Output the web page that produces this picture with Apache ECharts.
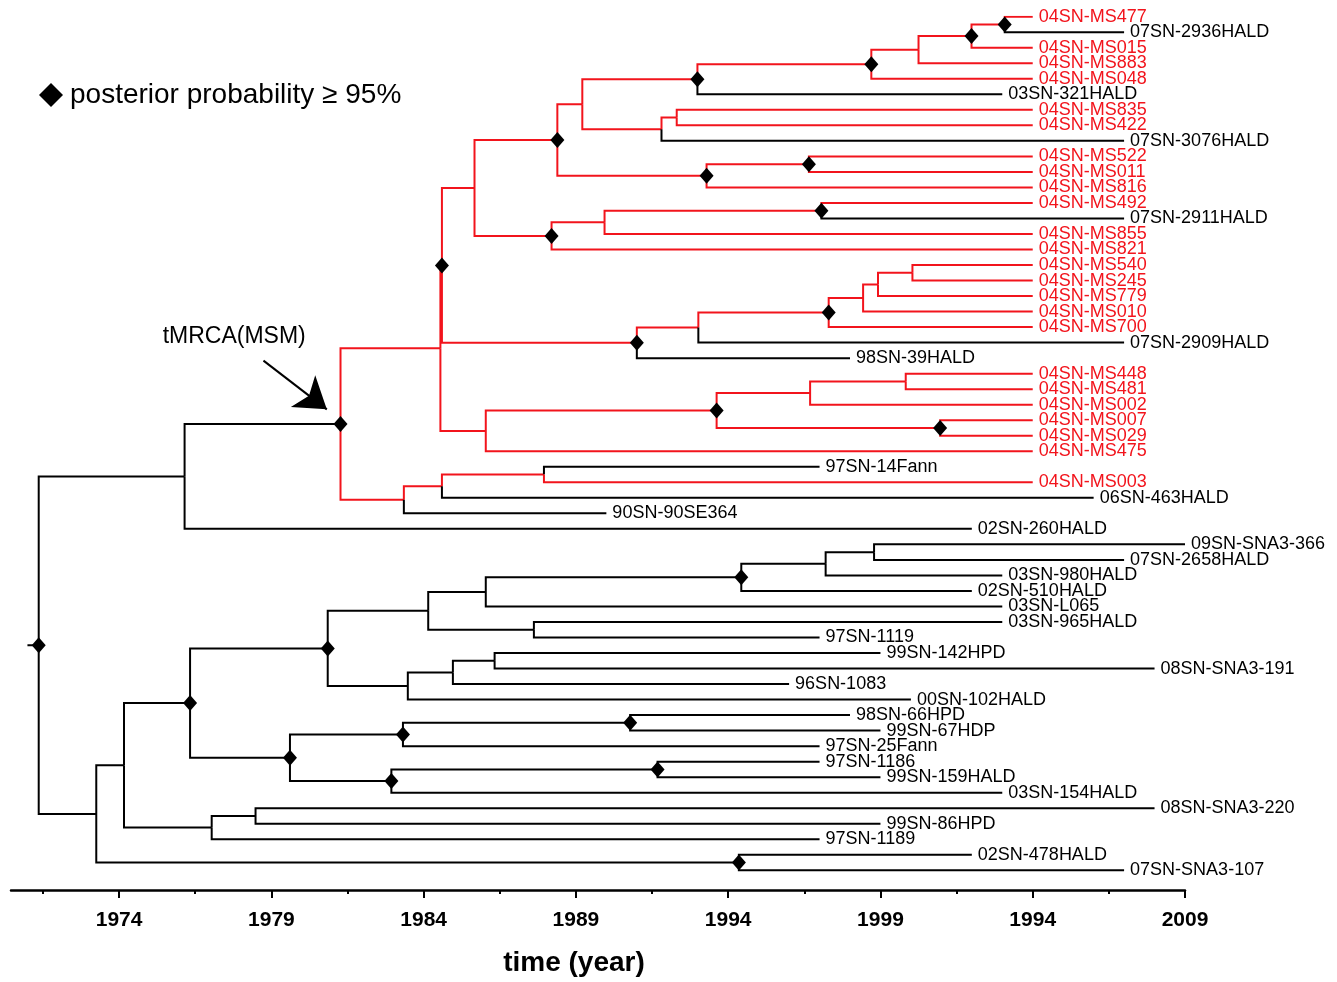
<!DOCTYPE html>
<html><head><meta charset="utf-8">
<script src="https://cdn.jsdelivr.net/npm/echarts@6/dist/echarts.min.js"></script>
<style>html,body{margin:0;padding:0;background:#fff}#c{width:1337px;height:982px}</style>
</head><body><div id="c"></div>
<script>
// ---------- leaves (top to bottom) ----------
const leafNames = [
 '04SN-MS477','07SN-2936HALD','04SN-MS015','04SN-MS883','04SN-MS048','03SN-321HALD',
 '04SN-MS835','04SN-MS422','07SN-3076HALD','04SN-MS522','04SN-MS011','04SN-MS816',
 '04SN-MS492','07SN-2911HALD','04SN-MS855','04SN-MS821','04SN-MS540','04SN-MS245',
 '04SN-MS779','04SN-MS010','04SN-MS700','07SN-2909HALD','98SN-39HALD','04SN-MS448',
 '04SN-MS481','04SN-MS002','04SN-MS007','04SN-MS029','04SN-MS475','97SN-14Fann',
 '04SN-MS003','06SN-463HALD','90SN-90SE364','02SN-260HALD','09SN-SNA3-366','07SN-2658HALD',
 '03SN-980HALD','02SN-510HALD','03SN-L065','03SN-965HALD','97SN-1119','99SN-142HPD',
 '08SN-SNA3-191','96SN-1083','00SN-102HALD','98SN-66HPD','99SN-67HDP','97SN-25Fann',
 '97SN-1186','99SN-159HALD','03SN-154HALD','08SN-SNA3-220','99SN-86HPD','97SN-1189',
 '02SN-478HALD','07SN-SNA3-107'];
const leafYears = [
 2004,2007,2004,2004,2004,2003,
 2004,2004,2007,2004,2004,2004,
 2004,2007,2004,2004,2004,2004,
 2004,2004,2004,2007,1998,2004,
 2004,2004,2004,2004,2004,1997,
 2004,2006,1990,2002,2009,2007,
 2003,2002,2003,2003,1997,1999,
 2008,1996,2000,1998,1999,1997,
 1997,1999,2003,2008,1999,1997,
 2002,2007];
const leafIsMSM = [
 1,0,1,1,1,0, 1,1,0,1,1,1, 1,0,1,1,1,1, 1,1,1,0,0,1, 1,1,1,1,1,0,
 1,0,0,0,0,0, 0,0,0,0,0,0, 0,0,0,0,0,0, 0,0,0,0,0,0, 0,0];

// ---------- internal nodes ----------
const nodeIds = ['R','A','M','N1','P','S','S1','S3','S5','S7','S8','S9','S10','S6','S11','S4','S12',
 'S2','S13','S14','T','T1','T2','T3','T4','T5','Q','Q1','Q2','Q4','Q3','N2','N3','N4',
 'B','C','E','G','G1','G5','G7','G8','G9','G6','G2','G3','G4','H','H1','H3','H2','H4','F','F1','D'];
const nodeYears = [1971.36,1976.15,1981.27,1984.55,1984.60,1985.67,1988.39,1989.21,1992.99,1998.70,2000.25,2001.99,2003.08,1991.81,1992.31,1993.29,1996.65,
 1988.20,1989.94,1997.06,1991.00,1993.02,1997.30,1998.43,1998.92,2000.05,1986.04,1993.62,1996.69,1999.83,2000.96,1983.35,1984.60,1987.95,
 1973.25,1974.16,1976.33,1980.85,1984.15,1986.04,1994.43,1997.20,1998.79,1987.62,1983.48,1984.96,1986.33,1979.61,1983.32,1990.78,1982.94,1991.68,1977.04,1978.48,1994.35];
const nodeChildren = [['A','B'],['M',33],['N1','N2'],['P','Q'],['S','T'],['S1','S2'],['S3','S4'],['S5','S6'],['S7',5],['S8',4],['S9',3],['S10',2],[0,1],['S11',8],[6,7],['S12',11],[9,10],
 ['S13',15],['S14',14],[12,13],['T1',22],['T2',21],['T3',20],['T4',19],['T5',18],[16,17],['Q1',28],['Q2','Q3'],['Q4',25],[23,24],[26,27],['N3',32],['N4',31],[29,30],
 ['C','D'],['E','F'],['G','H'],['G1','G2'],['G5','G6'],['G7',38],['G8',37],['G9',36],[34,35],[39,40],['G3',44],['G4',43],[41,42],['H1','H2'],['H3',47],[45,46],['H4',50],[48,49],['F1',53],[51,52],[54,55]];
const nodeSupported = [1,0,1,0,1,0,1,0,1,1,0,1,1,0,0,1,1,
 1,0,1,1,0,1,0,0,0,0,1,0,0,1,0,0,0,
 0,0,1,1,0,0,1,0,0,0,0,0,0,1,1,1,1,1,0,0,1];
const rootStubYear = 1970.99;

// ---------- annotations & axis ----------
const tmrcaNode = 'M';
const tmrcaLabel = 'tMRCA(MSM)';
const tmrcaLabelPos = [1977.78, 20.6];
const tmrcaArrow = [[1978.74, 22.16], [1980.82, 25.3]];
const legendText = 'posterior probability \u2265 95%';
const axisTitle = 'time (year)';
const tickValues = [1974, 1979, 1984, 1989, 1994, 1999, 2004, 2009];
const tickLabels = ['1974', '1979', '1984', '1989', '1994', '1999', '1994', '2009'];
const minorTickValues = [1971.5, 1976.5, 1981.5, 1986.5, 1991.5, 1996.5, 2001.5, 2006.5];

// ---------- build ----------
const FONT = 'Liberation Sans, Arial, Helvetica, sans-serif';
const RED = '#f2141c', BLACK = '#000';
const nIdx = {}; nodeIds.forEach((id, i) => nIdx[id] = i);
const isLeaf = r => typeof r === 'number';
const yMemo = {};
function yOf(r) {
  if (isLeaf(r)) return r;
  if (yMemo[r] !== undefined) return yMemo[r];
  const ch = nodeChildren[nIdx[r]];
  return (yMemo[r] = (yOf(ch[0]) + yOf(ch[ch.length - 1])) / 2);
}
const xOf = r => isLeaf(r) ? leafYears[r] : nodeYears[nIdx[r]];
function hasRed(r) { return isLeaf(r) ? !!leafIsMSM[r] : nodeChildren[nIdx[r]].some(hasRed); }
const inClade = new Set();
(function mark(r) { if (isLeaf(r)) return; nodeChildren[nIdx[r]].forEach(c => { inClade.add(c); mark(c); }); })(tmrcaNode);

const edges = [];
nodeIds.forEach((id, i) => {
  const px = nodeYears[i], py = yOf(id);
  nodeChildren[i].forEach(c => {
    const red = inClade.has(c) && hasRed(c);
    edges.push({ coords: [[px, py], [px, yOf(c)], [xOf(c), yOf(c)]], lineStyle: { color: red ? RED : BLACK } });
  });
});
edges.push({ coords: [[rootStubYear, yOf('R')], [nodeYears[nIdx['R']], yOf('R')]], lineStyle: { color: BLACK } });

const diamonds = [];
nodeIds.forEach((id, i) => { if (nodeSupported[i]) diamonds.push([nodeYears[i], yOf(id)]); });

const tips = leafNames.map((n, i) => ({ value: [leafYears[i], i], label: { color: leafIsMSM[i] ? RED : BLACK } }));

const chart = echarts.init(document.getElementById('c'), null, { renderer: 'canvas' });
chart.setOption({
  animation: false,
  backgroundColor: '#fff',
  textStyle: { fontFamily: FONT },
  grid: { left: 11, right: 152, top: 16.7, bottom: 85.3, containLabel: false },
  legend: {
    data: [legendText], left: 34, top: 76, itemWidth: 24, itemHeight: 24,
    textStyle: { fontSize: 28, color: '#000', fontFamily: FONT, padding: [0, 0, 0, 2] }
  },
  xAxis: [{
    type: 'value', min: 1970.45, max: 2009, position: 'bottom',
    axisLine: { show: true, onZero: false, lineStyle: { color: BLACK, width: 2.5 } },
    axisTick: { show: true, customValues: tickValues, length: 8, lineStyle: { color: BLACK, width: 2 } },
    axisLabel: {
      show: true, customValues: tickValues, margin: 20,
      formatter: v => { const k = tickValues.findIndex(t => Math.abs(t - v) < 1e-6); return k >= 0 ? tickLabels[k] : ''; },
      fontSize: 21, fontWeight: 'bold', color: BLACK, fontFamily: FONT
    },
    splitLine: { show: false },
    name: axisTitle, nameLocation: 'middle', nameGap: 59,
    nameTextStyle: { fontSize: 28, fontWeight: 'bold', color: BLACK, fontFamily: FONT, padding: [0, 48, 0, 0] }
  }, {
    type: 'value', min: 1970.45, max: 2009, position: 'bottom',
    axisLine: { show: false, onZero: false },
    axisTick: { show: true, customValues: minorTickValues, length: 4, lineStyle: { color: BLACK, width: 2 } },
    axisLabel: { show: false }, splitLine: { show: false }
  }],
  yAxis: { type: 'value', min: 0, max: 56.27, inverse: true, show: false },
  series: [
    {
      type: 'lines', coordinateSystem: 'cartesian2d', polyline: true, silent: true,
      lineStyle: { width: 2, opacity: 1, curveness: 0 }, data: edges, z: 2
    },
    {
      name: 'tips', type: 'scatter', symbolSize: 0, data: tips, silent: true, z: 4,
      itemStyle: { opacity: 1 },
      label: {
        show: true, position: 'right', distance: 6, fontSize: 18, fontFamily: FONT,
        formatter: p => leafNames[p.dataIndex]
      }
    },
    {
      name: legendText, type: 'scatter', symbol: 'diamond', symbolSize: [14, 16],
      itemStyle: { color: BLACK, opacity: 1 }, data: diamonds, z: 5, silent: true
    },
    {
      name: 'annot', type: 'scatter', symbolSize: 0, silent: true, z: 5,
      itemStyle: { opacity: 1 },
      data: [tmrcaLabelPos],
      label: { show: true, position: 'inside', formatter: tmrcaLabel, fontSize: 23, color: '#000', fontFamily: FONT }
    },
    {
      name: 'arrow', type: 'lines', coordinateSystem: 'cartesian2d', silent: true, z: 5,
      symbol: ['none', 'arrow'], symbolSize: [1, 30],
      lineStyle: { color: BLACK, width: 2, opacity: 1, curveness: 0 },
      itemStyle: { color: BLACK },
      data: [{ coords: tmrcaArrow }]
    }
  ]
});
</script></body></html>
